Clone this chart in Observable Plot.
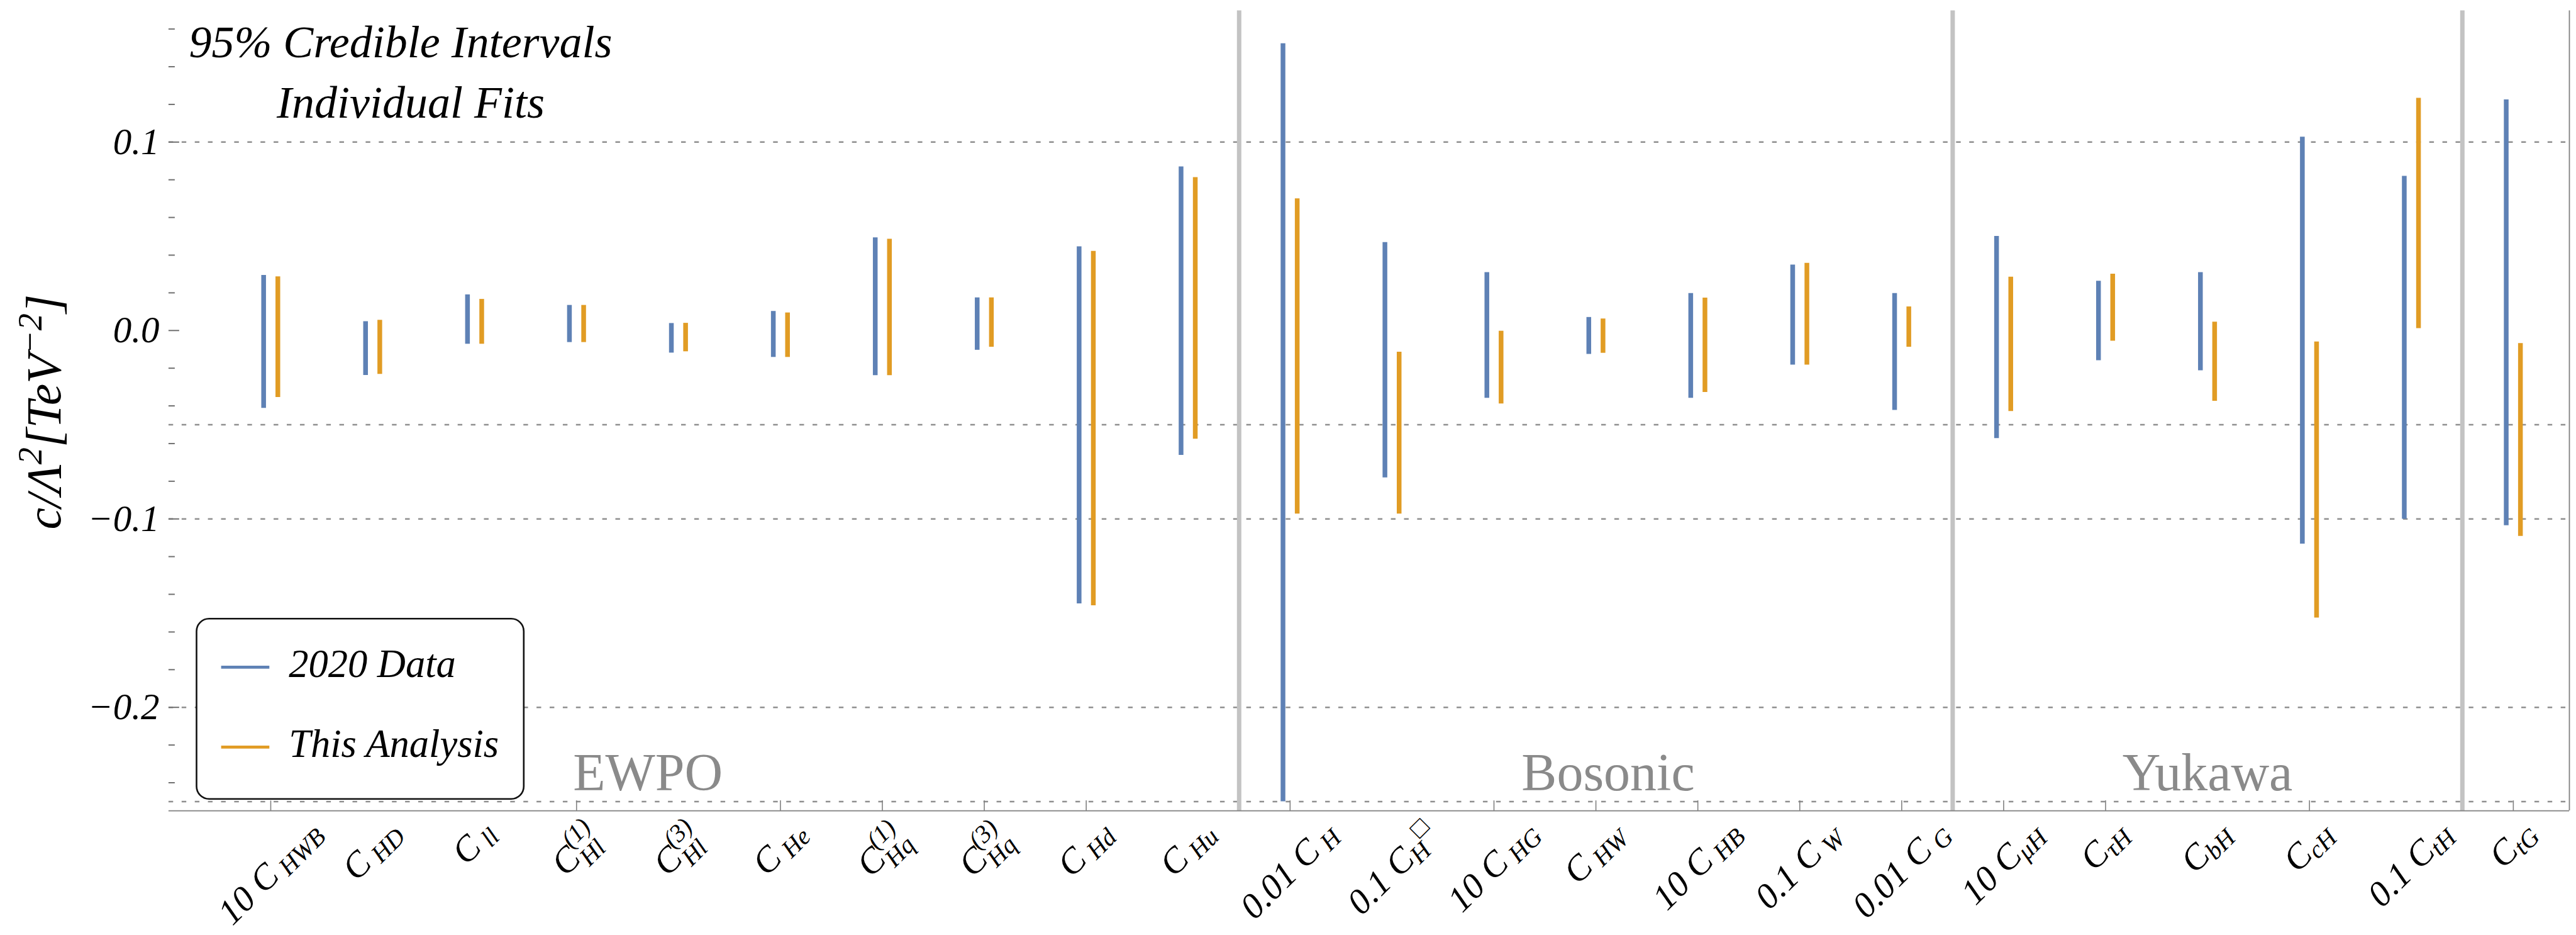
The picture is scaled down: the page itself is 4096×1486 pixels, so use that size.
<!DOCTYPE html>
<html>
<head>
<meta charset="utf-8">
<script src="https://cdn.jsdelivr.net/npm/d3@7"></script>
<script src="https://cdn.jsdelivr.net/npm/@observablehq/plot@0.6"></script>
<style>
html,body{margin:0;padding:0;background:#fff;overflow:hidden;}
#chart{position:relative;width:4096px;height:1486px;overflow:hidden;}
svg{overflow:visible;}
</style>
</head>
<body>
<div id="chart"></div>
<script>
// ---------------- data ----------------
const categories = [
  "10 C_{ HWB}", "C_{ HD}", "C_{ ll}", "C^{(1)}_{Hl}", "C^{(3)}_{Hl}", "C_{ He}",
  "C^{(1)}_{Hq}", "C^{(3)}_{Hq}", "C_{ Hd}", "C_{ Hu}",
  "0.01 C_{ H}", "0.1 C_{H}^{□}", "10 C_{ HG}", "C_{ HW}", "10 C_{ HB}", "0.1 C_{ W}", "0.01 C_{ G}",
  "10 C_{μH}", "C_{τH}", "C_{bH}", "C_{cH}", "0.1 C_{tH}", "C_{tG}"
];
const low2020  = [-0.0412, -0.0238, -0.0072, -0.0063, -0.0119, -0.0142, -0.0239, -0.0104, -0.1450, -0.0662,
                  -0.2500, -0.0781, -0.0359, -0.0126, -0.0359, -0.0183, -0.0423,
                  -0.0573, -0.0159, -0.0213, -0.1133, -0.1001, -0.1035];
const high2020 = [ 0.0293,  0.0048,  0.0190,  0.0134,  0.0038,  0.0102,  0.0493,  0.0174,  0.0445,  0.0869,
                   0.1523,  0.0468,  0.0308,  0.0070,  0.0197,  0.0348,  0.0197,
                   0.0500,  0.0262,  0.0308,  0.1027,  0.0819,  0.1225];
const lowThis  = [-0.0355, -0.0232, -0.0072, -0.0063, -0.0112, -0.0142, -0.0239, -0.0088, -0.1460, -0.0576,
                  -0.0973, -0.0973, -0.0389, -0.0120, -0.0328, -0.0183, -0.0088,
                  -0.0429, -0.0056, -0.0375, -0.1525,  0.0011, -0.1092];
const highThis = [ 0.0286,  0.0055,  0.0166,  0.0134,  0.0039,  0.0094,  0.0485,  0.0174,  0.0421,  0.0812,
                   0.0700, -0.0114, -0.0003,  0.0062,  0.0173,  0.0357,  0.0126,
                   0.0284,  0.0300,  0.0045, -0.0060,  0.1233, -0.0068];
const seriesNames = ["2020 Data", "This Analysis"];
const seriesColors = ["#5e81b5", "#e19c24"];
const groupNames = ["EWPO", "Bosonic", "Yukawa"];
const groupLast = [9, 16, 21];
const groupLabelAt = [3.7, 13.12, 19];
const gridValues = [0.1, -0.05, -0.1, -0.2, -0.25];
const yMajor = [-0.2, -0.1, 0, 0.1];
const yMinor = [-0.24, -0.22, -0.18, -0.16, -0.14, -0.12, -0.08, -0.06, -0.04, -0.02,
                0.02, 0.04, 0.06, 0.08, 0.12, 0.14, 0.16];
const xTicked = [0, 3, 5, 6, 7, 8, 10, 12, 13, 14, 15, 16, 17, 18, 20, 22];
const xDomain = [-1.0, 22.55];
const yDomain = [-0.2549, 0.1697];
const titleLines = ["95% Credible Intervals", "Individual Fits"];
const yTitle = "c/Λ^{2}[TeV^{−2}]";

// ---------------- layout ----------------
const W = 4096, H = 1486, mL = 267.9, mR = 11, mT = 16.6, mB = 197.9;
const plotW = W - mL - mR, plotH = H - mT - mB;
const FONT = '"Liberation Serif","Times New Roman",serif';

const rows2020 = categories.map((c, i) => ({i, lo: low2020[i], hi: high2020[i]}));
const rowsThis = categories.map((c, i) => ({i, lo: lowThis[i], hi: highThis[i]}));
const separators = groupLast.map(g => g + 0.5);

const svg = Plot.plot({
  width: W, height: H,
  marginLeft: mL, marginRight: mR, marginTop: mT, marginBottom: mB,
  style: {background: "white", color: "black", fontFamily: FONT},
  x: {type: "linear", domain: xDomain},
  y: {type: "linear", domain: yDomain},
  marks: [
    Plot.ruleY(gridValues, {y: d => d, stroke: "#8f8f8f", strokeWidth: 2.4, strokeDasharray: "7.4 13.5"}),
    Plot.ruleX(separators, {x: d => d, stroke: "#c3c3c3", strokeWidth: 7}),
    Plot.ruleY([yDomain[0]], {y: d => d, stroke: "#808080", strokeWidth: 1.8}),
    Plot.ruleX([xDomain[1]], {x: d => d, stroke: "#808080", strokeWidth: 1.8}),
    Plot.tickY(yMajor, {y: d => d, stroke: "#707070", strokeWidth: 2, insetRight: plotW - 17}),
    Plot.tickY(yMinor, {y: d => d, stroke: "#707070", strokeWidth: 2, insetRight: plotW - 10}),
    Plot.tickX(xTicked, {x: d => d, stroke: "#808080", strokeWidth: 1.6, insetTop: plotH - 16}),
    Plot.ruleX(rows2020, {x: "i", y1: "lo", y2: "hi", stroke: seriesColors[0], strokeWidth: 7.5, dx: -11.3}),
    Plot.ruleX(rowsThis, {x: "i", y1: "lo", y2: "hi", stroke: seriesColors[1], strokeWidth: 7.5, dx: 11.3}),
    Plot.text(groupNames, {x: (d, i) => groupLabelAt[i], text: d => d, frameAnchor: "bottom", lineAnchor: "bottom",
      dy: -32.2, fontSize: 84, fill: "#8a8a8a", fontFamily: FONT}),
    Plot.axisY({ticks: yMajor, tickSize: 0, tickPadding: 15, tickFormat: d3.format(".1f"),
      fontSize: 59, fontStyle: "italic", fontFamily: FONT, label: null}),
    Plot.axisX({ticks: d3.range(categories.length), tickSize: 0, tickFormat: i => categories[i],
      fontSize: 57, fontStyle: "italic", fontFamily: FONT, label: null})
  ]
});

document.getElementById("chart").appendChild(svg);

// rich text: markup with _{sub} and ^{sup}; a sup directly followed by a sub is stacked
function buildRich(el, s, F, k) {
  const re = /([_^])\{([^}]*)\}|([^_^]+)/g;
  const toks = []; let m;
  while ((m = re.exec(s))) toks.push(m[3] != null ? {t: "n", v: m[3]} : {t: m[1] === "_" ? "sub" : "sup", v: m[2]});
  let shift = 0, prevSup = null;
  toks.forEach((tk, j) => {
    const ts = document.createElementNS("http://www.w3.org/2000/svg", "tspan");
    ts.textContent = tk.v;
    const stackedSup = tk.t === "sup" && toks[j + 1] && toks[j + 1].t === "sub";
    if (tk.t === "n") {
      ts.setAttribute("font-size", F);
      if (shift) ts.setAttribute("dy", -shift);
      shift = 0; el.appendChild(ts); prevSup = null;
    } else if (tk.t === "sub") {
      const sh = (prevSup ? 0.27 : 0.13) * F;
      ts.setAttribute("font-size", F * k);
      ts.setAttribute("dy", sh - shift);
      if (prevSup) ts.setAttribute("dx", -prevSup.getComputedTextLength());
      shift = sh; el.appendChild(ts); prevSup = null;
    } else {
      const sh = (stackedSup ? 0.45 : 0.38) * F;
      ts.setAttribute("font-size", F * k);
      ts.setAttribute("dy", -sh - shift);
      shift = -sh; el.appendChild(ts); prevSup = stackedSup ? ts : null;
    }
  });
}

// x tick labels: rich text, rotated 45°, centred under the tick
const sx = d3.scaleLinear(xDomain, [mL, W - mR]);
const labelTop = 1291;
const sr = svg.getBoundingClientRect();
Array.from(svg.querySelectorAll("text")).filter(t => categories.includes(t.textContent)).forEach(t => {
  const i = categories.indexOf(t.textContent);
  t.textContent = "";
  t.removeAttribute("y"); t.removeAttribute("x"); t.removeAttribute("dy");
  t.setAttribute("text-anchor", "start");
  t.setAttribute("transform", "rotate(-45)");
  buildRich(t, categories[i], 57, 0.7);
  const r = t.getBoundingClientRect();
  const cx = (r.left + r.right) / 2 - sr.left, top = r.top - sr.top;
  t.setAttribute("transform", `translate(${sx(i) - cx},${labelTop - top}) rotate(-45)`);
});

const S = d3.select(svg);
// y-axis title
const yt = S.append("text").attr("transform", "translate(95.8,654.6) rotate(-90)")
  .attr("text-anchor", "middle").attr("font-style", "italic").attr("font-family", FONT).attr("fill", "#000");
buildRich(yt.node(), yTitle, 78, 0.7);

// title lines
S.append("text").attr("x", 637).attr("y", 91.2).attr("text-anchor", "middle").attr("font-style", "italic")
  .attr("font-family", FONT).attr("font-size", 72).attr("fill", "#000").text(titleLines[0]);
S.append("text").attr("x", 653).attr("y", 187.2).attr("text-anchor", "middle").attr("font-style", "italic")
  .attr("font-family", FONT).attr("font-size", 72).attr("fill", "#000").text(titleLines[1]);

// legend
const lg = S.append("g");
lg.append("rect").attr("x", 312.5).attr("y", 983.3).attr("width", 520.3).attr("height", 286.5)
  .attr("rx", 20).attr("ry", 20).attr("fill", "#fff").attr("stroke", "#111").attr("stroke-width", 2.6);
const legY = [1060.3, 1187.4], legTextY = [1075.5, 1202.7];
seriesNames.forEach((n, j) => {
  lg.append("line").attr("x1", 351.6).attr("x2", 428.3).attr("y1", legY[j]).attr("y2", legY[j])
    .attr("stroke", seriesColors[j]).attr("stroke-width", 4.8);
  lg.append("text").attr("x", 459.2).attr("y", legTextY[j]).attr("text-anchor", "start").attr("font-style", "italic")
    .attr("font-family", FONT).attr("font-size", 62.5).attr("fill", "#000").text(n);
});
</script>
</body>
</html>
